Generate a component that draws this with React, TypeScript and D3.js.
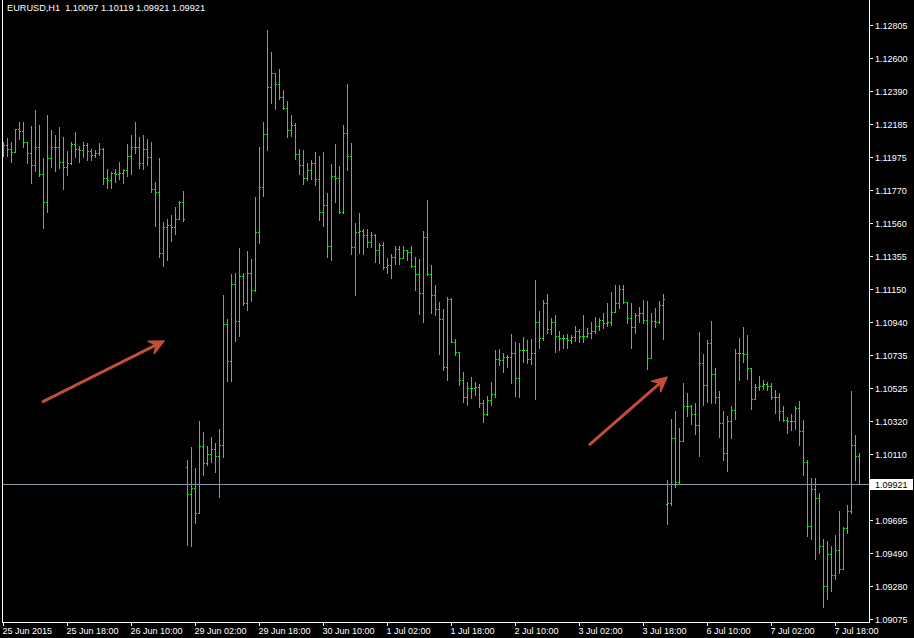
import React from 'react';
import * as d3 from 'd3';

// EURUSD H1, 25 Jun 2015 02:00 .. 7 Jul 2015 20:00, one entry per hourly bar
const symbol = 'EURUSD,H1';

const opens = [
  1.12020, 1.12051, 1.12026, 1.12007, 1.12152, 1.12139, 1.12070, 1.12001, 1.11926, 1.12039,
  1.11869, 1.11693, 1.11970, 1.12039, 1.12039, 1.11945, 1.11913, 1.11938, 1.12058, 1.12026,
  1.12020, 1.12051, 1.12014, 1.11989, 1.12001, 1.12026, 1.11844, 1.11832, 1.11876, 1.11869,
  1.11876, 1.11894, 1.11982, 1.12039, 1.12039, 1.11938, 1.12026, 1.11976, 1.11775, 1.11756,
  1.11373, 1.11536, 1.11549, 1.11536, 1.11587, 1.11693, 1.10029, 1.09860, 1.09897, 1.09740,
  1.10161, 1.10054, 1.10111, 1.10142, 1.10098, 1.10167, 1.10927, 1.10695, 1.11178, 1.10946,
  1.11229, 1.11059, 1.11248, 1.11141, 1.11505, 1.11788, 1.12120, 1.12416, 1.12504, 1.12434,
  1.12353, 1.12284, 1.12146, 1.12177, 1.11995, 1.11926, 1.11844, 1.11894, 1.11938, 1.11838,
  1.11631, 1.11675, 1.11417, 1.11857, 1.11844, 1.11631, 1.12127, 1.11982, 1.11411, 1.11505,
  1.11511, 1.11486, 1.11442, 1.11486, 1.11392, 1.11423, 1.11285, 1.11298, 1.11348, 1.11398,
  1.11342, 1.11392, 1.11379, 1.11292, 1.11241, 1.11122, 1.11474, 1.11241, 1.11109, 1.11022,
  1.10959, 1.10657, 1.11084, 1.10814, 1.10751, 1.10576, 1.10469, 1.10525, 1.10525, 1.10532,
  1.10431, 1.10362, 1.10450, 1.10488, 1.10708, 1.10701, 1.10720, 1.10720, 1.10745, 1.10588,
  1.10764, 1.10764, 1.10708, 1.10745, 1.10940, 1.10839, 1.11059, 1.10896, 1.10940, 1.10852,
  1.10839, 1.10839, 1.10827, 1.10846, 1.10883, 1.10852, 1.10852, 1.10871, 1.10883, 1.10915,
  1.10952, 1.10934, 1.10940, 1.11003, 1.11059, 1.11147, 1.11065, 1.10965, 1.10908, 1.10984,
  1.10996, 1.10952, 1.10714, 1.10946, 1.10940, 1.11047, 1.09797, 1.09803, 1.10211, 1.09935,
  1.10192, 1.10412, 1.10412, 1.10362, 1.10293, 1.10682, 1.10544, 1.10808, 1.10613, 1.10469,
  1.10306, 1.10117, 1.10318, 1.10387, 1.10745, 1.10745, 1.10739, 1.10651, 1.10456, 1.10532,
  1.10538, 1.10551, 1.10538, 1.10469, 1.10469, 1.10381, 1.10324, 1.10318, 1.10318, 1.10400,
  1.10255, 1.10061, 1.09659, 1.09891, 1.09835, 1.09533, 1.09282, 1.09483, 1.09351, 1.09508,
  1.09389, 1.09646, 1.09753, 1.10167, 1.10097,
];

const highs = [
  1.12070, 1.12095, 1.12070, 1.12152, 1.12196, 1.12196, 1.12070, 1.12171, 1.12271, 1.12177,
  1.11970, 1.12240, 1.12146, 1.12114, 1.12164, 1.12102, 1.12014, 1.12070, 1.12133, 1.12045,
  1.12070, 1.12064, 1.12026, 1.12020, 1.12064, 1.12033, 1.11901, 1.11882, 1.11901, 1.11945,
  1.11901, 1.12058, 1.12114, 1.12196, 1.12102, 1.12114, 1.12089, 1.12070, 1.11819, 1.11970,
  1.11568, 1.11587, 1.11612, 1.11662, 1.11700, 1.11762, 1.10073, 1.10155, 1.10023, 1.10318,
  1.10249, 1.10161, 1.10218, 1.10180, 1.10268, 1.11109, 1.10959, 1.11241, 1.11248, 1.11405,
  1.11248, 1.11386, 1.11336, 1.11725, 1.12039, 1.12196, 1.12774, 1.12635, 1.12504, 1.12529,
  1.12397, 1.12328, 1.12240, 1.12190, 1.12026, 1.12020, 1.11938, 1.11957, 1.12007, 1.11982,
  1.12007, 1.11750, 1.11932, 1.12058, 1.11919, 1.12177, 1.12434, 1.12064, 1.11562, 1.11624,
  1.11524, 1.11524, 1.11505, 1.11492, 1.11436, 1.11442, 1.11342, 1.11367, 1.11417, 1.11417,
  1.11417, 1.11392, 1.11417, 1.11348, 1.11336, 1.11511, 1.11706, 1.11298, 1.11172, 1.11065,
  1.11022, 1.11097, 1.11091, 1.10833, 1.10751, 1.10626, 1.10563, 1.10594, 1.10563, 1.10551,
  1.10450, 1.10475, 1.10563, 1.10764, 1.10770, 1.10745, 1.10733, 1.10865, 1.10814, 1.10808,
  1.10846, 1.10827, 1.10833, 1.11204, 1.11009, 1.11078, 1.11116, 1.10965, 1.10984, 1.10883,
  1.10858, 1.10865, 1.10858, 1.10915, 1.10896, 1.10984, 1.10902, 1.10940, 1.10971, 1.10965,
  1.10996, 1.11059, 1.11128, 1.11172, 1.11172, 1.11172, 1.11065, 1.11059, 1.10996, 1.11034,
  1.11078, 1.11072, 1.10996, 1.11028, 1.11072, 1.11116, 1.09948, 1.10331, 1.10381, 1.10274,
  1.10557, 1.10494, 1.10419, 1.10431, 1.10877, 1.10739, 1.10827, 1.10946, 1.10651, 1.10507,
  1.10381, 1.10350, 1.10412, 1.10770, 1.10839, 1.10908, 1.10858, 1.10651, 1.10551, 1.10601,
  1.10576, 1.10563, 1.10557, 1.10513, 1.10494, 1.10412, 1.10343, 1.10362, 1.10412, 1.10444,
  1.10324, 1.10073, 1.09960, 1.09960, 1.09866, 1.09577, 1.09565, 1.09533, 1.09602, 1.09753,
  1.09652, 1.09791, 1.10507, 1.10230, 1.10119,
];

const lows = [
  1.11982, 1.11982, 1.11945, 1.12007, 1.12089, 1.12039, 1.11938, 1.11813, 1.11888, 1.11857,
  1.11530, 1.11631, 1.11913, 1.11888, 1.11907, 1.11775, 1.11863, 1.11932, 1.11976, 1.11945,
  1.11976, 1.11957, 1.11957, 1.11976, 1.11989, 1.11806, 1.11781, 1.11781, 1.11819, 1.11838,
  1.11813, 1.11857, 1.11869, 1.12001, 1.11907, 1.11901, 1.11926, 1.11756, 1.11543, 1.11348,
  1.11292, 1.11329, 1.11448, 1.11492, 1.11587, 1.11574, 1.09539, 1.09533, 1.09678, 1.09740,
  1.09979, 1.10042, 1.10061, 1.09998, 1.09841, 1.10092, 1.10569, 1.10569, 1.10821, 1.10852,
  1.11047, 1.11015, 1.11072, 1.11134, 1.11436, 1.11731, 1.12020, 1.12315, 1.12278, 1.12340,
  1.12278, 1.12102, 1.12108, 1.11963, 1.11869, 1.11806, 1.11832, 1.11838, 1.11800, 1.11580,
  1.11543, 1.11348, 1.11329, 1.11693, 1.11624, 1.11624, 1.11894, 1.11367, 1.11109, 1.11373,
  1.11367, 1.11411, 1.11411, 1.11317, 1.11310, 1.11273, 1.11248, 1.11216, 1.11304, 1.11304,
  1.11342, 1.11329, 1.11285, 1.11141, 1.10990, 1.10940, 1.11235, 1.10996, 1.10984, 1.10739,
  1.10638, 1.10576, 1.10814, 1.10733, 1.10544, 1.10437, 1.10419, 1.10463, 1.10481, 1.10406,
  1.10312, 1.10356, 1.10419, 1.10469, 1.10670, 1.10626, 1.10657, 1.10557, 1.10475, 1.10469,
  1.10689, 1.10682, 1.10676, 1.10456, 1.10777, 1.10827, 1.10871, 1.10865, 1.10751, 1.10764,
  1.10777, 1.10777, 1.10808, 1.10821, 1.10814, 1.10814, 1.10846, 1.10839, 1.10871, 1.10890,
  1.10902, 1.10915, 1.10921, 1.11003, 1.11028, 1.11059, 1.10934, 1.10777, 1.10871, 1.10940,
  1.10934, 1.10645, 1.10714, 1.10908, 1.10934, 1.10833, 1.09671, 1.09791, 1.09904, 1.09929,
  1.10192, 1.10350, 1.10299, 1.10236, 1.10098, 1.10419, 1.10437, 1.10431, 1.10431, 1.10218,
  1.10073, 1.10004, 1.10211, 1.10331, 1.10576, 1.10689, 1.10582, 1.10393, 1.10456, 1.10513,
  1.10519, 1.10513, 1.10456, 1.10368, 1.10324, 1.10318, 1.10243, 1.10262, 1.10268, 1.10167,
  1.09979, 1.09596, 1.09577, 1.09452, 1.09489, 1.09150, 1.09200, 1.09251, 1.09326, 1.09364,
  1.09389, 1.09615, 1.09740, 1.09948, 1.09921,
];

const closes = [
  1.12051, 1.12026, 1.12007, 1.12152, 1.12139, 1.12070, 1.12001, 1.11926, 1.12039, 1.11869,
  1.11693, 1.11970, 1.12039, 1.12039, 1.11945, 1.11913, 1.11938, 1.12058, 1.12026, 1.12020,
  1.12051, 1.12014, 1.11989, 1.12001, 1.12026, 1.11844, 1.11832, 1.11876, 1.11869, 1.11876,
  1.11894, 1.11982, 1.12039, 1.12039, 1.11938, 1.12026, 1.11976, 1.11775, 1.11756, 1.11373,
  1.11536, 1.11549, 1.11536, 1.11587, 1.11693, 1.11587, 1.09860, 1.09897, 1.09740, 1.10161,
  1.10054, 1.10111, 1.10142, 1.10098, 1.10167, 1.10927, 1.10695, 1.11178, 1.10946, 1.11229,
  1.11059, 1.11248, 1.11141, 1.11505, 1.11788, 1.12120, 1.12416, 1.12504, 1.12434, 1.12353,
  1.12284, 1.12146, 1.12177, 1.11995, 1.11926, 1.11844, 1.11894, 1.11938, 1.11838, 1.11631,
  1.11675, 1.11417, 1.11857, 1.11844, 1.11631, 1.12127, 1.11982, 1.11411, 1.11505, 1.11511,
  1.11486, 1.11442, 1.11486, 1.11392, 1.11423, 1.11285, 1.11298, 1.11348, 1.11398, 1.11342,
  1.11392, 1.11379, 1.11292, 1.11241, 1.11122, 1.11474, 1.11241, 1.11109, 1.11022, 1.10959,
  1.10657, 1.11084, 1.10814, 1.10751, 1.10576, 1.10469, 1.10525, 1.10525, 1.10532, 1.10431,
  1.10362, 1.10450, 1.10488, 1.10708, 1.10701, 1.10720, 1.10720, 1.10745, 1.10588, 1.10764,
  1.10764, 1.10708, 1.10745, 1.10940, 1.10839, 1.11059, 1.10896, 1.10940, 1.10852, 1.10839,
  1.10839, 1.10827, 1.10846, 1.10883, 1.10852, 1.10852, 1.10871, 1.10883, 1.10915, 1.10952,
  1.10934, 1.10940, 1.11003, 1.11059, 1.11147, 1.11065, 1.10965, 1.10908, 1.10984, 1.10996,
  1.10952, 1.10714, 1.10946, 1.10940, 1.11047, 1.11084, 1.09803, 1.10211, 1.09935, 1.10192,
  1.10412, 1.10412, 1.10362, 1.10293, 1.10682, 1.10544, 1.10808, 1.10613, 1.10469, 1.10306,
  1.10117, 1.10318, 1.10387, 1.10745, 1.10745, 1.10739, 1.10651, 1.10456, 1.10532, 1.10538,
  1.10551, 1.10538, 1.10469, 1.10469, 1.10381, 1.10324, 1.10318, 1.10318, 1.10400, 1.10255,
  1.10061, 1.09659, 1.09891, 1.09835, 1.09533, 1.09282, 1.09483, 1.09351, 1.09508, 1.09389,
  1.09646, 1.09753, 1.10167, 1.10097, 1.09921,
];

// one time label every 16 bars, starting at bar 0
const timeLabels = [
  '25 Jun 2015', '25 Jun 18:00', '26 Jun 10:00', '29 Jun 02:00', '29 Jun 18:00',
  '30 Jun 10:00', '1 Jul 02:00', '1 Jul 18:00', '2 Jul 10:00', '3 Jul 02:00',
  '3 Jul 18:00', '6 Jul 10:00', '7 Jul 02:00', '7 Jul 18:00',
];
const labelStep = 16;

const priceTicks = [
  1.12805, 1.12600, 1.12390, 1.12185, 1.11975, 1.11770, 1.11560, 1.11355, 1.11150,
  1.10940, 1.10735, 1.10525, 1.10320, 1.10110, 1.09695, 1.09490, 1.09280, 1.09075,
];

const bidPrice = 1.09921;

// hand-drawn arrows, in (bar index, price)
const arrows = [
  { from: [9.75, 1.10437], to: [40.25, 1.10821] },
  { from: [146.5, 1.10167], to: [166, 1.10594] },
];

const BAR = '#1fe51f';
const AXIS = '#ffffff';
const ARROW = '#c24e38';
const FONT = '"Liberation Sans", Arial, sans-serif';

export default function App() {
  const width = 914;
  const height = 638;
  const frameLeft = 2;
  const frameRight = 869;
  const frameBottom = 622;

  const x = d3.scaleLinear().domain([0, closes.length - 1]).range([3, 859]);
  const y = d3.scaleLinear().domain([1.09075, 1.12805]).range([619, 25]);
  const px = (v: number) => Math.round(x(v));
  const py = (v: number) => Math.round(y(v));

  const last = closes.length - 1;
  const title = `${symbol}  ${opens[last].toFixed(5)} ${highs[last].toFixed(5)} ${lows[last].toFixed(5)} ${closes[last].toFixed(5)}`;

  const arrowShapes = arrows.map((a) => {
    const x0 = x(a.from[0]), y0 = y(a.from[1]);
    const x1 = x(a.to[0]), y1 = y(a.to[1]);
    const ang = Math.atan2(y1 - y0, x1 - x0);
    const back = ang + Math.PI;
    const len = 16, spread = 0.45, notch = 9;
    const w1 = [x1 + len * Math.cos(back - spread), y1 + len * Math.sin(back - spread)];
    const w2 = [x1 + len * Math.cos(back + spread), y1 + len * Math.sin(back + spread)];
    const n = [x1 + notch * Math.cos(back), y1 + notch * Math.sin(back)];
    return {
      shaft: [x0, y0, n[0] + 2 * Math.cos(ang), n[1] + 2 * Math.sin(ang)],
      head: `${x1},${y1} ${w1[0]},${w1[1]} ${n[0]},${n[1]} ${w2[0]},${w2[1]}`,
    };
  });

  const bidY = py(bidPrice);

  return (
    <div style={{ position: 'absolute', left: 0, top: 0 }}>
      <svg width={width} height={height} style={{ display: 'block', background: '#000' }}>
        <rect x={0} y={0} width={width} height={height} fill="#000" />

        {/* bars */}
        <g shapeRendering="crispEdges" fill={BAR}>
          {closes.map((c, i) => {
            const xi = px(i);
            const top = py(highs[i]);
            const bot = py(lows[i]);
            return (
              <g key={i}>
                <rect x={xi} y={top} width={1} height={Math.max(1, bot - top + 1)} />
                <rect x={xi - 1} y={py(opens[i])} width={1} height={1} />
                <rect x={xi + 1} y={py(c)} width={1} height={1} />
              </g>
            );
          })}
        </g>

        {/* bid line */}
        <line x1={frameLeft} x2={frameRight} y1={bidY + 0.5} y2={bidY + 0.5}
          stroke="#8595a5" strokeWidth={1} shapeRendering="crispEdges" />

        {/* arrows */}
        {arrowShapes.map((a, i) => (
          <g key={i}>
            <line x1={a.shaft[0]} y1={a.shaft[1]} x2={a.shaft[2]} y2={a.shaft[3]}
              stroke={ARROW} strokeWidth={3} />
            <polygon points={a.head} fill={ARROW} stroke={ARROW} strokeWidth={1.5} strokeLinejoin="round" />
          </g>
        ))}

        {/* frame */}
        <g stroke={AXIS} strokeWidth={1} shapeRendering="crispEdges">
          <line x1={frameLeft + 0.5} x2={frameLeft + 0.5} y1={0} y2={frameBottom + 1} />
          <line x1={frameRight + 0.5} x2={frameRight + 0.5} y1={0} y2={frameBottom + 1} />
          <line x1={frameLeft} x2={frameRight + 1} y1={frameBottom + 0.5} y2={frameBottom + 0.5} />
        </g>

        {/* price axis */}
        <g fontFamily={FONT} fontSize={9} fill={AXIS}>
          {priceTicks.map((v) => (
            <g key={v}>
              <line x1={frameRight} x2={frameRight + 4} y1={py(v) + 0.5} y2={py(v) + 0.5}
                stroke={AXIS} shapeRendering="crispEdges" />
              <text x={875} y={py(v) + 3.5}>{v.toFixed(5)}</text>
            </g>
          ))}
        </g>

        {/* bid label */}
        <rect x={870} y={bidY - 5} width={43} height={11} fill="#ffffff" shapeRendering="crispEdges" />
        <text x={875} y={bidY + 3.5} fontFamily={FONT} fontSize={9} fill="#000">{bidPrice.toFixed(5)}</text>

        {/* time axis */}
        <g fontFamily={FONT} fontSize={9} fill={AXIS}>
          {timeLabels.map((lab, k) => {
            const tx = px(k * labelStep);
            return (
              <g key={lab}>
                <line x1={tx + 0.5} x2={tx + 0.5} y1={frameBottom} y2={frameBottom + 4}
                  stroke={AXIS} shapeRendering="crispEdges" />
                <text x={tx - 0.5} y={634}>{lab}</text>
              </g>
            );
          })}
        </g>

        {/* title */}
        <text x={7} y={11} fontFamily={FONT} fontSize={9.2} fill="#ffffff" style={{ whiteSpace: 'pre' }}>
          {title}
        </text>
      </svg>
    </div>
  );
}
